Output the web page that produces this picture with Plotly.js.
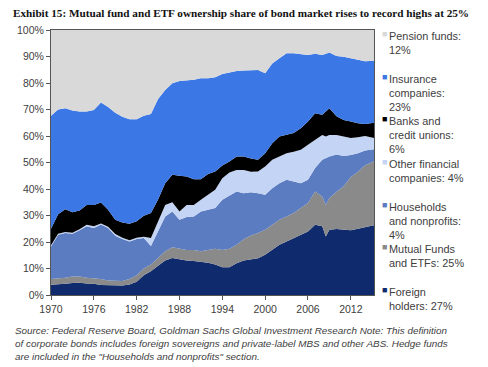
<!DOCTYPE html>
<html>
<head>
<meta charset="utf-8">
<script src="https://cdn.plot.ly/plotly-3.0.1.min.js"></script>
<style>html,body{margin:0;padding:0;background:#fff;}#chart{width:488px;height:367px;}</style>
</head>
<body>
<div id="chart"></div>
<script>
// Decimal years (annual, with one mid-2008 point; last point early 2015)
var years = [1970,1971,1972,1973,1974,1975,1976,1977,1978,1979,1980,1981,1982,1983,1984,1985,1986,1987,1988,1989,1990,1991,1992,1993,1994,1995,1996,1997,1998,1999,2000,2001,2002,2003,2004,2005,2006,2007,2008,2008.5,2009,2010,2011,2012,2013,2014,2015.25];

// Ownership shares (%) by holder
var foreign = [3.9,4.0,4.2,4.5,4.6,4.3,4.2,3.8,3.7,3.5,3.6,4.0,5.0,7.5,9.0,11.0,13.0,14.0,13.5,13.0,12.8,12.5,12.2,11.5,10.5,10.5,12.0,13.0,13.5,13.9,15.2,17.1,19.0,20.2,21.5,22.7,24.0,26.5,25.9,22.1,24.6,24.9,24.6,24.4,25.0,25.6,26.3];
var mutualFunds = [2.1,2.2,2.3,2.5,2.4,2.2,2.1,2.2,1.8,1.8,1.7,2.0,2.5,2.5,2.5,3.0,3.5,4.0,4.0,4.0,4.2,4.0,4.8,6.0,6.5,7.0,7.0,8.0,9.0,9.5,9.4,9.4,9.4,9.4,9.4,10.1,10.7,12.6,11.3,11.9,12.0,14.1,16.4,20.1,21.5,23.4,24.2];
var households = [12.3,16.5,16.9,16.1,17.4,19.4,19.0,20.6,19.8,17.1,15.8,14.2,13.6,11.5,7.0,10.0,13.1,13.5,10.9,12.4,12.6,15.0,15.2,15.3,18.9,19.9,20.1,17.4,16.3,15.0,13.2,13.8,13.8,13.9,11.9,9.4,8.8,8.8,13.8,17.6,15.7,14.0,11.5,8.3,7.0,5.5,4.5];
var otherFinancial = [0.5,0.4,0.4,0.4,0.4,0.6,0.6,0.4,0.5,0.6,0.5,0.5,0.5,0.5,3.0,4.0,4.4,3.5,3.1,4.6,4.4,4.4,5.6,6.9,8.2,8.8,8.1,8.8,7.7,8.2,10.7,10.7,10.1,10.0,11.3,12.6,13.2,10.6,9.4,8.2,8.1,7.4,7.3,6.4,6.0,5.5,4.2];
var banks = [6.2,7.4,8.6,7.7,7.1,7.5,8.1,7.9,6.4,5.4,5.8,6.2,6.2,7.9,9.4,8.0,8.2,10.4,13.5,10.7,9.7,7.8,7.9,6.9,4.8,4.2,5.1,5.1,5.0,4.4,5.0,6.3,7.5,6.9,7.0,8.1,8.8,10.1,7.6,9.4,10.1,7.1,6.2,6.3,5.3,4.5,5.8];
var insurance = [42.6,39.5,38.1,38.4,37.3,35.2,35.8,37.7,38.7,40.4,39.9,39.4,38.5,37.7,37.4,38.0,35.2,34.5,35.8,36.2,37.5,38.1,36.1,35.6,34.5,33.6,32.2,32.4,33.2,33.9,30.2,30.1,29.5,30.8,30.1,28.1,25.1,22.4,22.6,21.8,21.0,22.7,23.9,23.8,24.0,23.7,23.4];
var pension = [32.4,30.0,29.5,30.4,30.8,30.8,30.2,27.4,29.1,31.2,32.7,33.7,33.7,32.4,31.7,26.0,22.6,20.1,19.2,19.1,18.8,18.2,18.2,17.8,16.6,16.0,15.5,15.3,15.3,15.1,16.3,12.6,10.7,8.8,8.8,9.0,9.4,9.0,9.4,9.0,8.5,9.8,10.1,10.7,11.2,11.8,11.8];

var seriesNames = ["Foreign holders","Mutual Funds and ETFs","Households and nonprofits","Other financial companies","Banks and credit unions","Insurance companies","Pension funds"];
var seriesData = [foreign, mutualFunds, households, otherFinancial, banks, insurance, pension];
var seriesColors = ["#0f2b6e","#8a8a8a","#5b7cc0","#c3d4f4","#000000","#3b78e6","#d9d9d9"];

// Legend labels (top to bottom as in the reference)
var legendLabels = ["Pension funds:<br>12%","Insurance<br>companies:<br>23%","Banks and<br>credit unions:<br>6%","Other financial<br>companies: 4%","Households<br>and nonprofits:<br>4%","Mutual Funds<br>and ETFs: 25%","Foreign<br>holders: 27%"];
var legendColors = ["#d9d9d9","#3b78e6","#000000","#c3d4f4","#5b7cc0","#8a8a8a","#0f2b6e"];

var xTicks = [1970,1976,1982,1988,1994,2000,2006,2012];
var yTicks = [0,10,20,30,40,50,60,70,80,90,100];
var yTickText = yTicks.map(function(v){return v + "%";});

var traces = seriesData.map(function(vals, i){
  return {
    x: years, y: vals, name: seriesNames[i], type: "scatter", mode: "lines",
    stackgroup: "one", line: {width: 0, color: seriesColors[i]},
    fillcolor: seriesColors[i], showlegend: false, hoverinfo: "skip"
  };
});

var annotations = [];
var legTop = [28, 71, 113, 156, 199, 241, 284];
legendLabels.forEach(function(lbl, i){
  annotations.push({xref:"paper", yref:"paper", x:(380-51)/323, y:1-(legTop[i]+5.5-30)/265,
    text:"■", showarrow:false, xanchor:"left", yanchor:"middle",
    font:{family:"Liberation Sans, Arial", size:9, color:legendColors[i]}});
  annotations.push({xref:"paper", yref:"paper", x:(387-51)/323, y:1-(legTop[i]-30)/265,
    text:lbl, showarrow:false, xanchor:"left", yanchor:"top", align:"left",
    font:{family:"Liberation Sans, Arial", size:10.9, color:"#404040"}});
});
// Source note
annotations.push({xref:"paper", yref:"paper", x:(13-51)/323, y:1-(323-30)/265,
  text:"Source: Federal Reserve Board, Goldman Sachs Global Investment Research Note: This definition<br>of corporate bonds includes foreign sovereigns and private-label MBS and other ABS. Hedge funds<br>are included in the \"Households and nonprofits\" section.",
  showarrow:false, xanchor:"left", yanchor:"top", align:"left",
  font:{family:"Liberation Sans, Arial", size:9.9, color:"#404040", style:"italic"}});

var layout = {
  width: 488, height: 367,
  margin: {l:51, r:114, t:30, b:72},
  paper_bgcolor: "#fff", plot_bgcolor: "#fff",
  title: {text:"<b>Exhibit 15: Mutual fund and ETF ownership share of bond market rises to record highs at 25%</b>",
    x: 13/488, xanchor:"left", y: 1-13/367, yanchor:"middle",
    font:{family:"Liberation Serif, Times New Roman", size:11.2, color:"#111"}},
  xaxis: {range:[1970, 2015.25], tickmode:"array", tickvals:xTicks, ticktext:xTicks.map(String),
    showgrid:false, zeroline:false, showline:true, linecolor:"#555", linewidth:1, mirror:true,
    ticks:"outside", ticklen:4, tickcolor:"#555",
    tickfont:{family:"Liberation Sans, Arial", size:10.5, color:"#404040"}},
  yaxis: {range:[0,100], tickmode:"array", tickvals:yTicks, ticktext:yTickText,
    showgrid:false, zeroline:false, showline:true, linecolor:"#555", linewidth:1, mirror:true,
    ticks:"outside", ticklen:4, tickcolor:"#555",
    tickfont:{family:"Liberation Sans, Arial", size:10.5, color:"#404040"}},
  annotations: annotations,
  showlegend: false
};

Plotly.newPlot("chart", traces, layout, {displayModeBar:false, staticPlot:true});
</script>
</body>
</html>
